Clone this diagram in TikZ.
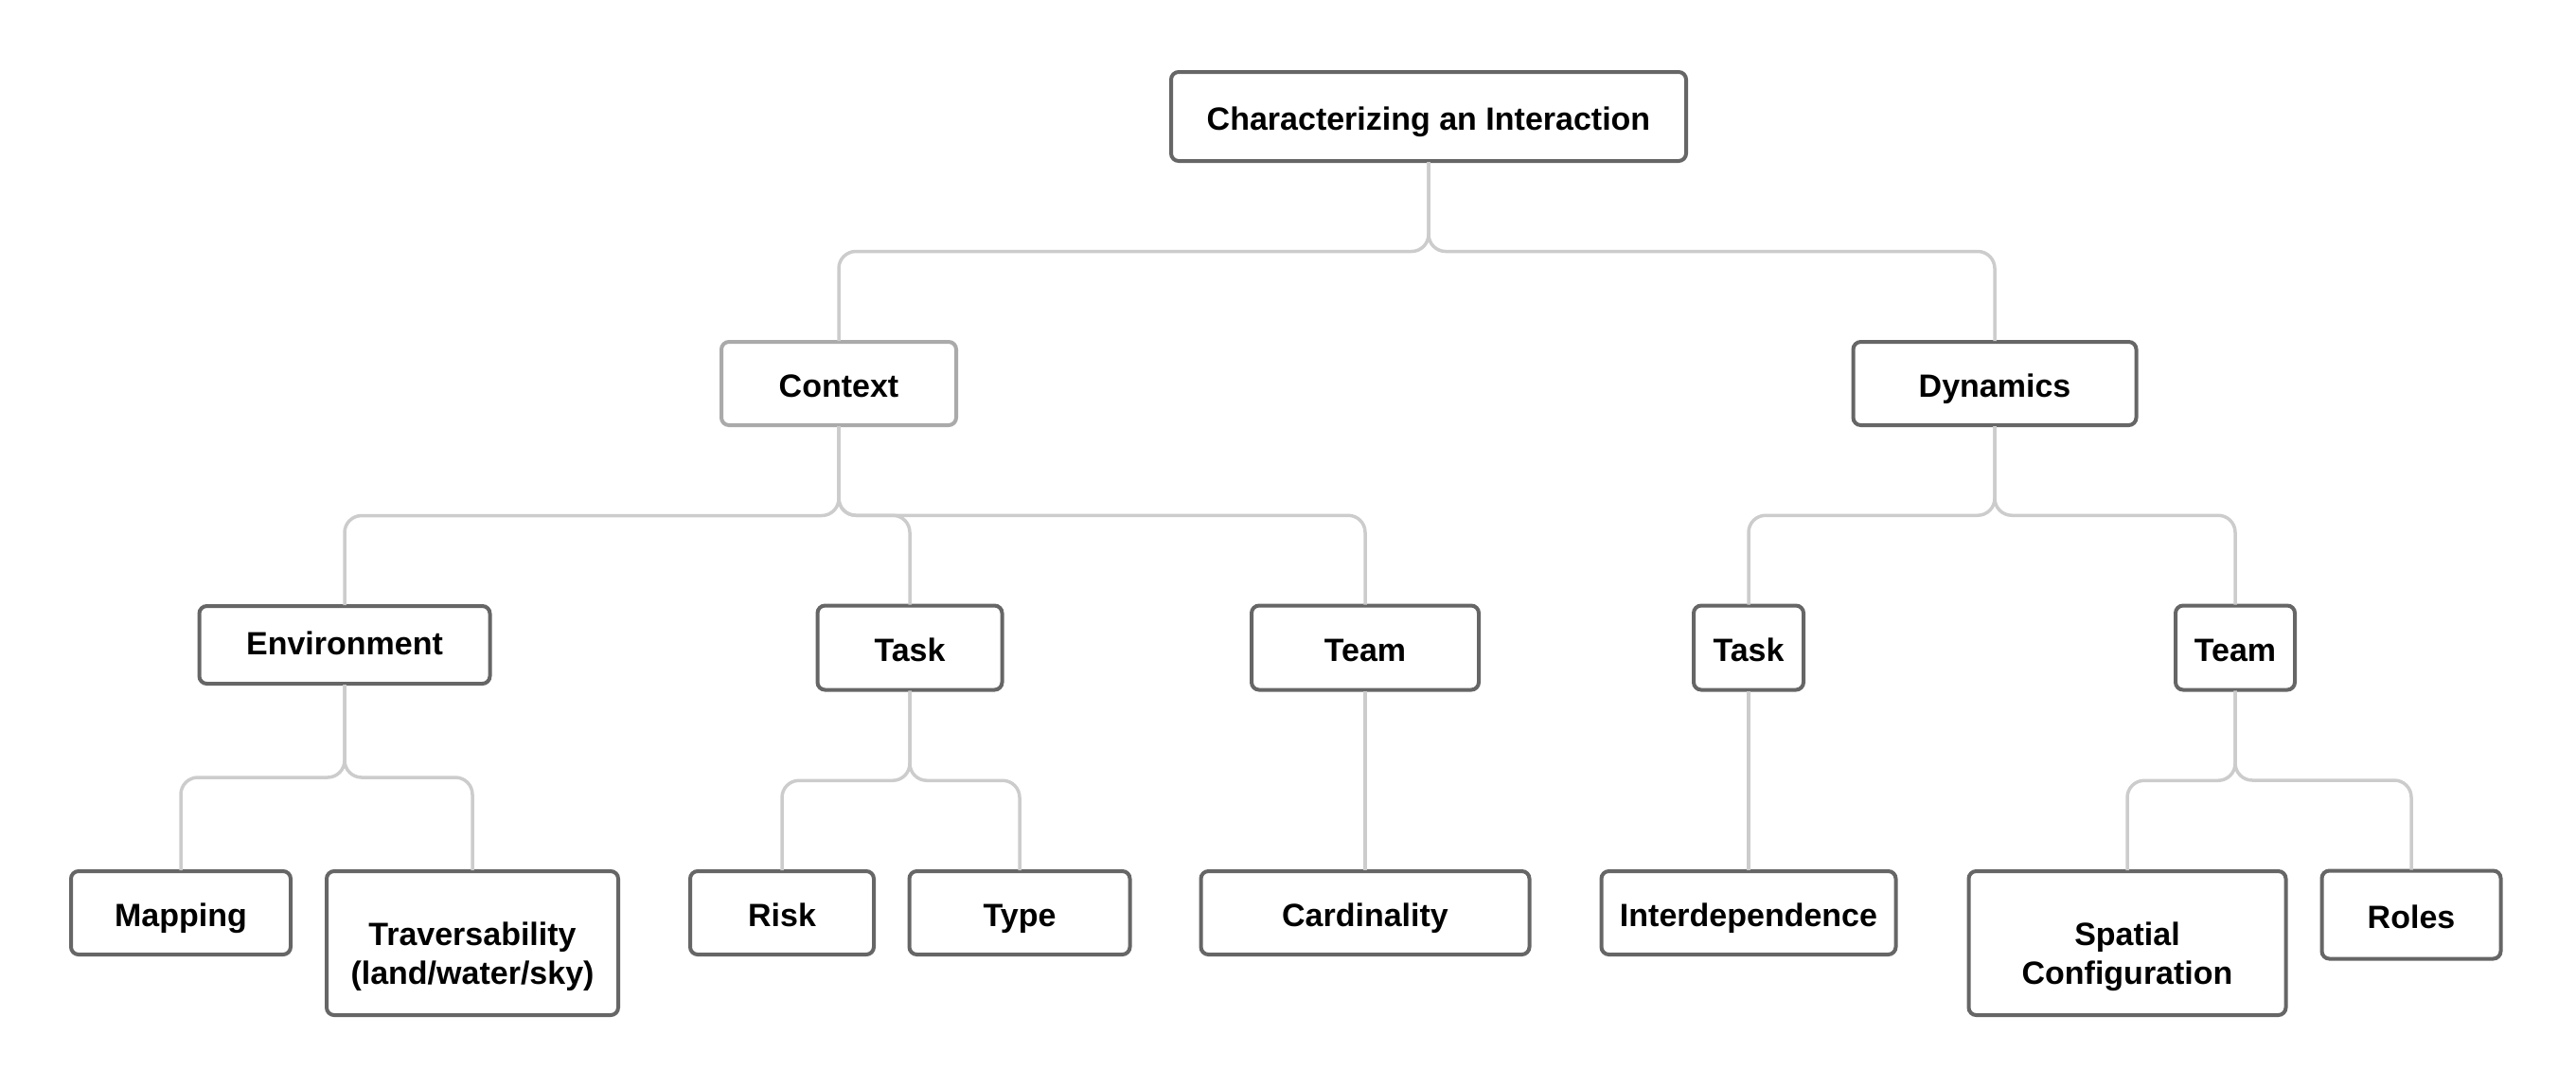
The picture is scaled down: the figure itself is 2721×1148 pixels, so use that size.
\documentclass[tikz,border=0pt]{standalone}
\usepackage{fontspec}
\setmainfont{Liberation Sans}
\usetikzlibrary{positioning,calc}
\tikzstyle{tree} = [x = 1pt, y = -1pt, every node/.style={transform shape}]
\definecolor{boxColor}{RGB}{102,102,102}
\definecolor{contextColor}{RGB}{170,170,170}
\definecolor{branchColor}{RGB}{204,204,204}
\tikzstyle{boxStyle} = [draw=boxColor, line width=2pt, fill=white, rounded corners=4pt, inner sep=0pt, align=center, text height=36pt, text depth=8pt, font=\fontsize{34}{41}\selectfont\bfseries]
\tikzstyle{twoLineStyle} = [text height=90pt, text depth=4pt]
\tikzstyle{lightBoxStyle} = [boxStyle, draw=contextColor]
\tikzstyle{branchStyle} = [draw=branchColor, line width=1.75pt, rounded corners=9pt]
\newcommand{\treeBox}[7][]{\node [boxStyle, minimum width=#5pt, minimum height=#6pt, #1] (#2) at (#3,#4) {#7};}
\newcommand{\branch}[2]{\draw [branchStyle] (#1.south) |- ($(#1.south)!.5!(#2.north)$) -| (#2.north);}
\newcommand{\straightBranch}[2]{\draw [branchStyle] (#1.south) -- (#2.north);}
\begin{document}
\begin{tikzpicture}[tree, scale = .5]
        \useasboundingbox (0,0) rectangle (2721,1148);
        % top
        \treeBox{root}{1509}{123}{544}{94}{Characterizing an Interaction}
        \treeBox[lightBoxStyle]{context}{886}{405}{248}{88}{Context}
        \treeBox{dynamics}{2107}{405}{299}{88}{Dynamics}
        % second row
        \treeBox[text depth=16pt]{environment}{364}{681}{307}{82}{Environment}
        \treeBox{ctxTask}{961}{684}{195}{89}{Task}
        \treeBox{ctxTeam}{1442}{684}{240}{89}{Team}
        \treeBox{dynTask}{1847}{684}{116}{89}{Task}
        \treeBox{dynTeam}{2361}{684}{126}{89}{Team}
        % leaves
        \treeBox{mapping}{191}{964}{232}{88}{Mapping}
        \treeBox[twoLineStyle]{traversability}{499}{996}{308}{152}{Traversability\\(land/water/sky)}
        \treeBox{risk}{826}{964}{194}{88}{Risk}
        \treeBox{type}{1077}{964}{233}{88}{Type}
        \treeBox{cardinality}{1442}{964}{347}{88}{Cardinality}
        \treeBox{interdependence}{1847}{964}{311}{88}{Interdependence}
        \treeBox[twoLineStyle]{spatial}{2247}{996}{335}{152}{Spatial\\Configuration}
        \treeBox{roles}{2547}{966}{189}{93}{Roles}

        \foreach \parentNode/\childNode in {root/context, root/dynamics, context/environment, context/ctxTask, context/ctxTeam, dynamics/dynTask, dynamics/dynTeam, environment/mapping, environment/traversability, ctxTask/risk, ctxTask/type, dynTeam/spatial, dynTeam/roles} {
          \branch{\parentNode}{\childNode}
        }
        \straightBranch{ctxTeam}{cardinality}
        \straightBranch{dynTask}{interdependence}
      \end{tikzpicture}
\end{document}
